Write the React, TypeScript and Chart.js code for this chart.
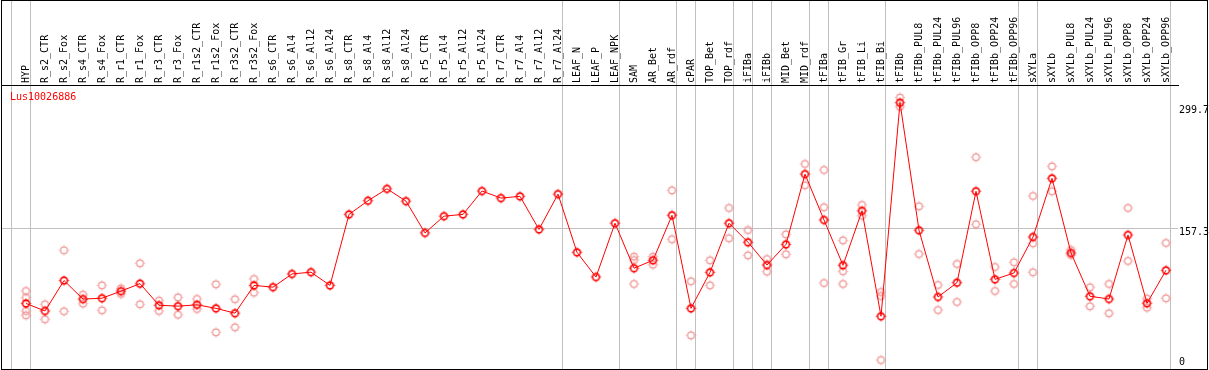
import React, { useEffect, useRef } from 'react';
import { Chart, registerables } from 'chart.js';

Chart.register(...registerables);

const GENE = 'Lus10026886';

const CATEGORIES = [
  'HYP', 'R_s2_CTR', 'R_s2_Fox', 'R_s4_CTR', 'R_s4_Fox', 'R_r1_CTR', 'R_r1_Fox',
  'R_r3_CTR', 'R_r3_Fox', 'R_r1s2_CTR', 'R_r1s2_Fox', 'R_r3s2_CTR', 'R_r3s2_Fox',
  'R_s6_CTR', 'R_s6_Al4', 'R_s6_Al12', 'R_s6_Al24', 'R_s8_CTR', 'R_s8_Al4',
  'R_s8_Al12', 'R_s8_Al24', 'R_r5_CTR', 'R_r5_Al4', 'R_r5_Al12', 'R_r5_Al24',
  'R_r7_CTR', 'R_r7_Al4', 'R_r7_Al12', 'R_r7_Al24', 'LEAF_N', 'LEAF_P', 'LEAF_NPK',
  'SAM', 'AR_Bet', 'AR_rdf', 'cPAR', 'TOP_Bet', 'TOP_rdf', 'iFIBa', 'iFIBb',
  'MID_Bet', 'MID_rdf', 'tFIBa', 'tFIB_Gr', 'tFIB_Li', 'tFIB_Bi', 'tFIBb',
  'tFIBb_PUL8', 'tFIBb_PUL24', 'tFIBb_PUL96', 'tFIBb_OPP8', 'tFIBb_OPP24', 'tFIBb_OPP96',
  'sXYLa', 'sXYLb', 'sXYLb_PUL8', 'sXYLb_PUL24', 'sXYLb_PUL96', 'sXYLb_OPP8',
  'sXYLb_OPP24', 'sXYLb_OPP96',
];

const MEANS = [
  72, 63.5, 98, 77, 78, 86, 94.5,
  70, 69, 70.5, 66.5, 61, 92.5,
  90.5, 105.5, 107.5, 92.5, 173, 188.5,
  202, 188, 152, 171, 173, 199.5,
  191.5, 193.5, 156, 196, 130, 102, 163,
  112, 121, 172, 66.5, 107.3, 163, 141.4, 115.6,
  139, 218.7, 166.7, 115.3, 177, 57.5, 299.7,
  155, 79.4, 95.6, 199.2, 99.4, 106.6,
  147.4, 213.9, 129.3, 80.2, 77.1, 149.7,
  72.2, 109.6,
];

const REPLICATES = [
  [86.2, 78.6, 63.5, 58.6], [71.1, 54.1], [132.3, 63.2], [82.0, 71.8], [92.6, 64.3],
  [89.2, 82.8], [117.6, 71.1], [75.2, 63.5], [79.0, 59.3], [77.1, 65.8], [93.8, 39.3],
  [76.8, 45.0], [99.8, 84.2],
  [], [], [], [], [], [], [], [], [], [], [], [], [], [], [], [], [], [], [],
  [125.1, 121.3, 94.1], [125.1, 116.0], [200.3, 144.8], [97.2, 35.9], [121.0, 92.6],
  [180.3, 145.9], [155.3, 126.6], [122.4, 108.0], [150.4, 127.8], [230.2, 206.0],
  [223.4, 181.1, 95.2], [143.6, 108.5, 94.1], [183.7, 171.5], [85.0, 80.5, 7.9],
  [305.4, 295.1], [182.2, 128.1], [93.0, 64.6], [116.8, 73.7], [237.8, 161.8],
  [113.4, 86.2], [118.7, 94.1], [193.9, 140.2, 107.4], [227.5, 199.2], [132.7, 127.0],
  [90.4, 68.8], [94.1, 60.9], [180.3, 120.2], [77.4, 67.2], [140.6, 77.9],
];

const Y_TICKS = [0, 157.3, 299.7];
const Y_GRID_VALUE = 157.3;
// index of the last category of each group (-1 = before the first one)
const GROUP_ENDS = [-1, 0, 28, 31, 34, 35, 37, 38, 39, 41, 42, 45, 52, 53, 60];

const GRID_COLOR = '#c0c0c0';
const FONT_FAMILY = '"DejaVu Sans Mono", "Liberation Mono", monospace';

const X_MIN = -24 / 19;
const X_MAX = 60 + 12 / 19;
const Y_MIN = -2.27;
const Y_MAX = 319.7;
const BOUNDARY_SHIFT = 0.24;

function makeMarker(color: string, lw: number): HTMLCanvasElement {
  const c = document.createElement('canvas');
  c.width = 13;
  c.height = 13;
  const g = c.getContext('2d')!;
  g.strokeStyle = color;
  g.fillStyle = color;
  g.lineWidth = lw;
  g.beginPath();
  g.arc(6.5, 6.5, 3.4, 0, Math.PI * 2);
  g.stroke();
  // small nubs around the ring
  g.fillRect(6, 1.5, 1, 1);
  g.fillRect(6, 10.5, 1, 1);
  g.fillRect(1.5, 6, 1, 1);
  g.fillRect(10.5, 6, 1, 1);
  return c;
}

const boundaryValues = GROUP_ENDS.map((b) => b + BOUNDARY_SHIFT);
const isBoundary = (v: number) => boundaryValues.some((b) => Math.abs(b - v) < 1e-6);

export default function App() {
  const ref = useRef<HTMLCanvasElement | null>(null);

  useEffect(() => {
    const canvas = ref.current;
    if (!canvas) return;

    const meanMarker = makeMarker('#ff0000', 1.6);
    const repMarker = makeMarker('#f09494', 1.2);

    const xTickValues = [...CATEGORIES.map((_, i) => i), ...boundaryValues].sort((a, b) => a - b);

    const meanData = MEANS.map((v, i) => ({ x: i, y: v }));
    const repData: { x: number; y: number }[] = [];
    REPLICATES.forEach((arr, i) => arr.forEach((v) => repData.push({ x: i, y: v })));

    const titlePlugin = {
      id: 'geneTitle',
      afterDraw(chart: any) {
        const { ctx, chartArea } = chart;
        ctx.save();
        ctx.font = `10px ${FONT_FAMILY}`;
        ctx.fillStyle = '#ff0000';
        ctx.textBaseline = 'middle';
        ctx.textAlign = 'left';
        ctx.fillText(GENE, 10, chartArea.top + 12);
        ctx.restore();
      },
    };

    const chart = new Chart(canvas, {
      type: 'line',
      data: {
        datasets: [
          {
            data: meanData,
            borderColor: '#ff0000',
            borderWidth: 1,
            pointStyle: meanMarker as any,
            pointRadius: 4,
            pointHoverRadius: 4,
            tension: 0,
            fill: false,
            order: 0,
          },
          {
            data: repData,
            showLine: false,
            borderColor: '#f09494',
            pointStyle: repMarker as any,
            pointRadius: 4,
            pointHoverRadius: 4,
            order: 1,
          },
        ],
      },
      plugins: [titlePlugin],
      options: {
        responsive: false,
        animation: false,
        events: [],
        layout: { autoPadding: false, padding: { left: 2, right: 0, top: 0, bottom: 1 } },
        plugins: {
          legend: { display: false },
          tooltip: { enabled: false },
          title: { display: false },
        },
        scales: {
          x: {
            type: 'linear',
            position: 'top',
            min: X_MIN,
            max: X_MAX,
            bounds: 'data',
            afterBuildTicks: (s: any) => {
              s.ticks = xTickValues.map((v) => ({ value: v }));
            },
            afterFit: (s: any) => {
              s.height = 85;
              s.paddingLeft = 0;
              s.paddingRight = 0;
              s.paddingTop = 0;
              s.paddingBottom = 0;
            },
            ticks: {
              autoSkip: false,
              minRotation: 90,
              maxRotation: 90,
              padding: -83,
              labelOffset: 1,
              color: '#000',
              font: { family: FONT_FAMILY, size: 10, lineHeight: 0.01 },
              callback: (v: any) => (Number.isInteger(v) ? CATEGORIES[v] ?? '' : ''),
            },
            grid: {
              color: (ctx: any) => (ctx.tick && isBoundary(ctx.tick.value) ? GRID_COLOR : 'rgba(0,0,0,0)'),
              lineWidth: 1,
              drawTicks: true,
              tickLength: 85,
              tickWidth: 1,
            },
            border: { display: true, color: '#000', width: 1 },
          },
          y: {
            type: 'linear',
            position: 'right',
            min: Y_MIN,
            max: Y_MAX,
            bounds: 'data',
            afterBuildTicks: (s: any) => {
              s.ticks = Y_TICKS.map((v) => ({ value: v }));
            },
            afterFit: (s: any) => {
              s.width = 31;
              s.paddingLeft = 0;
              s.paddingRight = 0;
              s.paddingTop = 0;
              s.paddingBottom = 0;
            },
            ticks: {
              padding: 1,
              color: '#000',
              font: (ctx: any) => {
                const v = ctx.tick ? ctx.tick.value : 0;
                const lh = v === 0 ? 1.0 : v === Y_GRID_VALUE ? 0.9 : 1.46;
                return { family: FONT_FAMILY, size: 10, lineHeight: lh };
              },
              callback: (v: any) => (v === 0 ? ['0', ''] : ['', String(v)]),
            },
            grid: {
              color: (ctx: any) => (ctx.tick && ctx.tick.value === Y_GRID_VALUE ? GRID_COLOR : 'rgba(0,0,0,0)'),
              lineWidth: 1,
              drawTicks: false,
            },
            border: { display: false },
          },
        },
      } as any,
    });

    return () => {
      chart.destroy();
    };
  }, []);

  return (
    <div style={{ position: 'absolute', left: 0, top: 0, width: 1209, height: 370, background: '#fff' }}>
      <canvas ref={ref} width={1209} height={370} style={{ position: 'absolute', left: 0, top: 0, width: 1209, height: 370 }} />
      <div
        style={{
          position: 'absolute',
          left: 1,
          top: 0,
          width: 1207,
          height: 370,
          border: '1px solid #000',
          boxSizing: 'border-box',
          pointerEvents: 'none',
        }}
      />
    </div>
  );
}
